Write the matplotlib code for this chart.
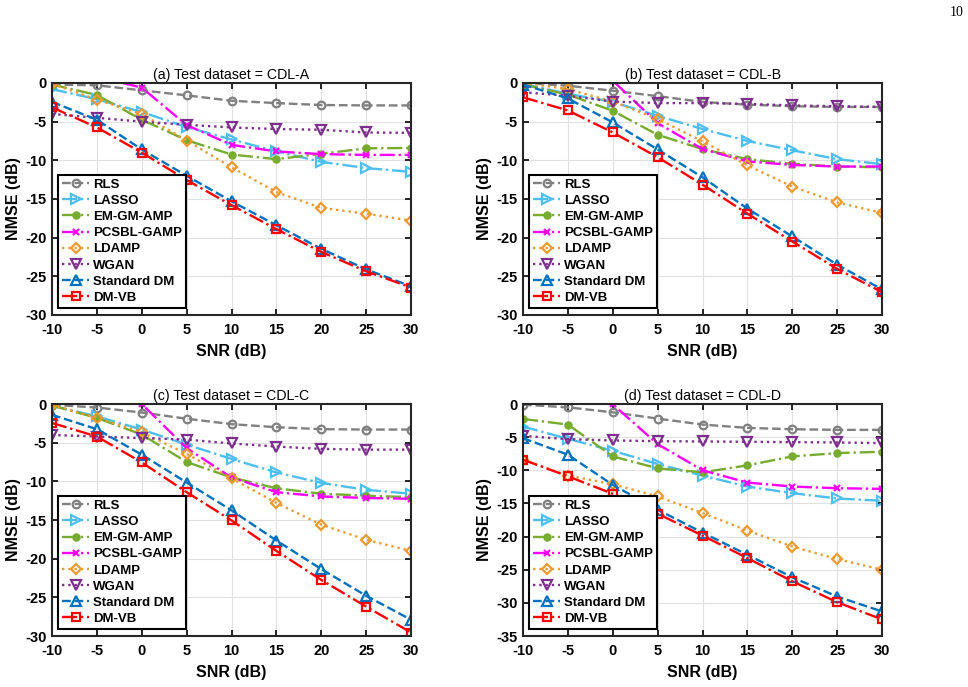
import matplotlib
matplotlib.use('Agg')
import matplotlib.pyplot as plt
import numpy as np

plt.rcParams['font.family'] = 'Liberation Sans'
plt.rcParams['axes.unicode_minus'] = False

# SNR-Achse
snr = [-10, -5, 0, 5, 10, 15, 20, 25, 30]

methods = ['RLS', 'LASSO', 'EM-GM-AMP', 'PCSBL-GAMP', 'LDAMP', 'WGAN', 'Standard DM', 'DM-VB']

# NMSE-Werte (dB)
cdl_a = {
    'RLS':         [-0.2, -0.3, -0.95, -1.6, -2.3, -2.6, -2.85, -2.9, -2.9],
    'LASSO':       [-0.8, -2.1, -3.75, -5.7, -7.3, -8.85, -10.2, -11.0, -11.5],
    'EM-GM-AMP':   [-0.2, -1.55, -4.75, -7.4, -9.25, -9.85, -9.15, -8.45, -8.4],
    'PCSBL-GAMP':  [3.0, 0.8, -0.6, -5.45, -8.0, -8.85, -9.2, -9.3, -9.3],
    'LDAMP':       [-0.1, -2.15, -4.0, -7.45, -10.9, -14.1, -16.15, -16.9, -17.8],
    'WGAN':        [-4.0, -4.5, -5.0, -5.4, -5.75, -5.95, -6.05, -6.4, -6.45],
    'Standard DM': [-2.45, -4.75, -8.6, -12.0, -15.3, -18.4, -21.45, -24.1, -26.3],
    'DM-VB':       [-3.15, -5.75, -9.0, -12.55, -15.8, -18.9, -21.85, -24.35, -26.45],
}
cdl_b = {
    'RLS':         [0.0, -0.35, -1.0, -1.7, -2.45, -2.8, -3.0, -3.1, -3.1],
    'LASSO':       [-0.1, -1.4, -2.45, -4.25, -5.95, -7.5, -8.7, -9.85, -10.5],
    'EM-GM-AMP':   [-0.2, -1.5, -3.6, -6.7, -8.55, -9.85, -10.45, -10.8, -10.9],
    'PCSBL-GAMP':  [5.0, 3.0, 0.3, -5.2, -8.55, -10.15, -10.6, -10.8, -10.8],
    'LDAMP':       [0.05, -0.8, -2.4, -4.65, -7.55, -10.65, -13.4, -15.45, -16.8],
    'WGAN':        [-1.2, -1.65, -2.4, -2.6, -2.6, -2.7, -2.9, -3.0, -3.1],
    'Standard DM': [-0.2, -2.0, -5.1, -8.6, -12.2, -16.25, -19.85, -23.5, -26.7],
    'DM-VB':       [-1.85, -3.55, -6.4, -9.6, -13.15, -16.9, -20.5, -24.05, -27.05],
}
cdl_c = {
    'RLS':         [-0.1, -0.45, -1.1, -1.9, -2.6, -3.0, -3.25, -3.3, -3.3],
    'LASSO':       [-0.2, -1.6, -3.3, -5.25, -7.1, -8.85, -10.2, -11.1, -11.6],
    'EM-GM-AMP':   [-0.2, -1.8, -3.95, -7.5, -9.5, -10.9, -11.6, -11.85, -12.05],
    'PCSBL-GAMP':  [4.0, 2.0, 0.0, -5.7, -9.5, -11.4, -11.95, -12.15, -12.25],
    'LDAMP':       [-0.1, -1.8, -3.65, -6.45, -9.6, -12.8, -15.6, -17.55, -19.0],
    'WGAN':        [-4.0, -4.2, -4.4, -4.6, -5.1, -5.5, -5.8, -5.9, -5.9],
    'Standard DM': [-1.4, -3.25, -6.55, -10.15, -13.75, -17.65, -21.35, -24.8, -27.9],
    'DM-VB':       [-2.45, -4.2, -7.55, -11.4, -15.05, -19.0, -22.75, -26.2, -29.55],
}
cdl_d = {
    'RLS':         [-0.1, -0.5, -1.25, -2.2, -3.1, -3.6, -3.8, -3.9, -3.9],
    'LASSO':       [-3.4, -5.25, -7.05, -9.05, -10.8, -12.45, -13.45, -14.25, -14.6],
    'EM-GM-AMP':   [-2.25, -3.1, -7.9, -9.7, -10.3, -9.25, -7.9, -7.4, -7.2],
    'PCSBL-GAMP':  [3.0, 1.0, -0.05, -6.05, -10.0, -11.85, -12.45, -12.7, -12.8],
    'LDAMP':       [-8.4, -10.8, -12.1, -13.95, -16.45, -19.1, -21.5, -23.4, -25.0],
    'WGAN':        [-4.8, -5.3, -5.5, -5.6, -5.65, -5.7, -5.75, -5.8, -5.9],
    'Standard DM': [-5.15, -7.65, -12.2, -15.95, -19.4, -22.75, -26.15, -29.05, -31.3],
    'DM-VB':       [-8.4, -10.9, -13.55, -16.55, -19.85, -23.25, -26.75, -29.9, -32.5],
}

datasets = [cdl_a, cdl_b, cdl_c, cdl_d]
titles = ['(a) Test dataset = CDL-A', '(b) Test dataset = CDL-B',
          '(c) Test dataset = CDL-C', '(d) Test dataset = CDL-D']
ymins = [-30, -30, -30, -35]

# Linienstil, Marker, Farbe je Methode
styles = {
    'RLS':         ('--', 'o', '#808080'),
    'LASSO':       ('-.', '>', '#4DBEEE'),
    'EM-GM-AMP':   ('-.', '.', '#77AC30'),
    'PCSBL-GAMP':  ('-.', 'x', '#FF00FF'),
    'LDAMP':       (':', 'D', '#EE9A2E'),
    'WGAN':        (':', 'v', '#7E2F8E'),
    'Standard DM': ('--', '^', '#0072BD'),
    'DM-VB':       ('-.', 's', '#FF0000'),
}

fig = plt.figure(figsize=(9.68, 6.87), dpi=100)
positions = [[0.0537, 0.5415, 0.371, 0.3377],
             [0.5403, 0.5415, 0.371, 0.3377],
             [0.0537, 0.0742, 0.371, 0.3377],
             [0.5403, 0.0742, 0.371, 0.3377]]

for k in range(4):
    ax = fig.add_axes(positions[k])
    data = datasets[k]
    for m in methods:
        ls, mk, col = styles[m]
        ms = 5.5
        if mk == '.':
            ms = 9
        elif mk == 'D':
            ms = 5
        elif mk == 'x':
            ms = 4
        elif mk in ('v', '^', '>'):
            ms = 6.5
        face = col if mk in ('.', 'x') else 'none'
        ax.plot(snr, data[m], linestyle=ls, marker=mk, color=col, lw=1.7,
                markersize=ms, markerfacecolor=face, markeredgewidth=1.6, label=m)
    ax.set_xlim(-10, 30)
    ax.set_ylim(ymins[k], 0)
    ax.set_xticks(snr)
    ax.set_yticks(np.arange(ymins[k], 1, 5))
    ax.grid(True, color='#E0E0E0', lw=0.8)
    ax.tick_params(direction='in', top=True, right=True, length=4, width=1.2,
                   labelsize=10.5)
    ax.tick_params(axis='x', pad=6)
    ax.tick_params(axis='y', pad=4)
    for lab in ax.get_xticklabels() + ax.get_yticklabels():
        lab.set_fontweight('bold')
    for sp in ax.spines.values():
        sp.set_linewidth(1.5)
        sp.set_color('#262626')
    ax.set_xlabel('SNR (dB)', fontsize=11.5, fontweight='bold', labelpad=5)
    ax.set_ylabel('NMSE (dB)', fontsize=11.5, fontweight='bold', labelpad=3)
    ax.set_title(titles[k], fontsize=10.2, pad=3)
    leg = ax.legend(loc='lower left', bbox_to_anchor=(0.018, 0.03), fancybox=False,
                    framealpha=1, edgecolor='black', prop={'weight': 'bold', 'size': 9.5},
                    handlelength=2.0, labelspacing=0.3, borderpad=0.3,
                    handletextpad=0.3, borderaxespad=0)
    leg.get_frame().set_linewidth(1.5)

fig.text(0.995, 0.991, '10', family='Liberation Serif', fontsize=10, ha='right', va='top')

plt.savefig('out.png', dpi=100)
